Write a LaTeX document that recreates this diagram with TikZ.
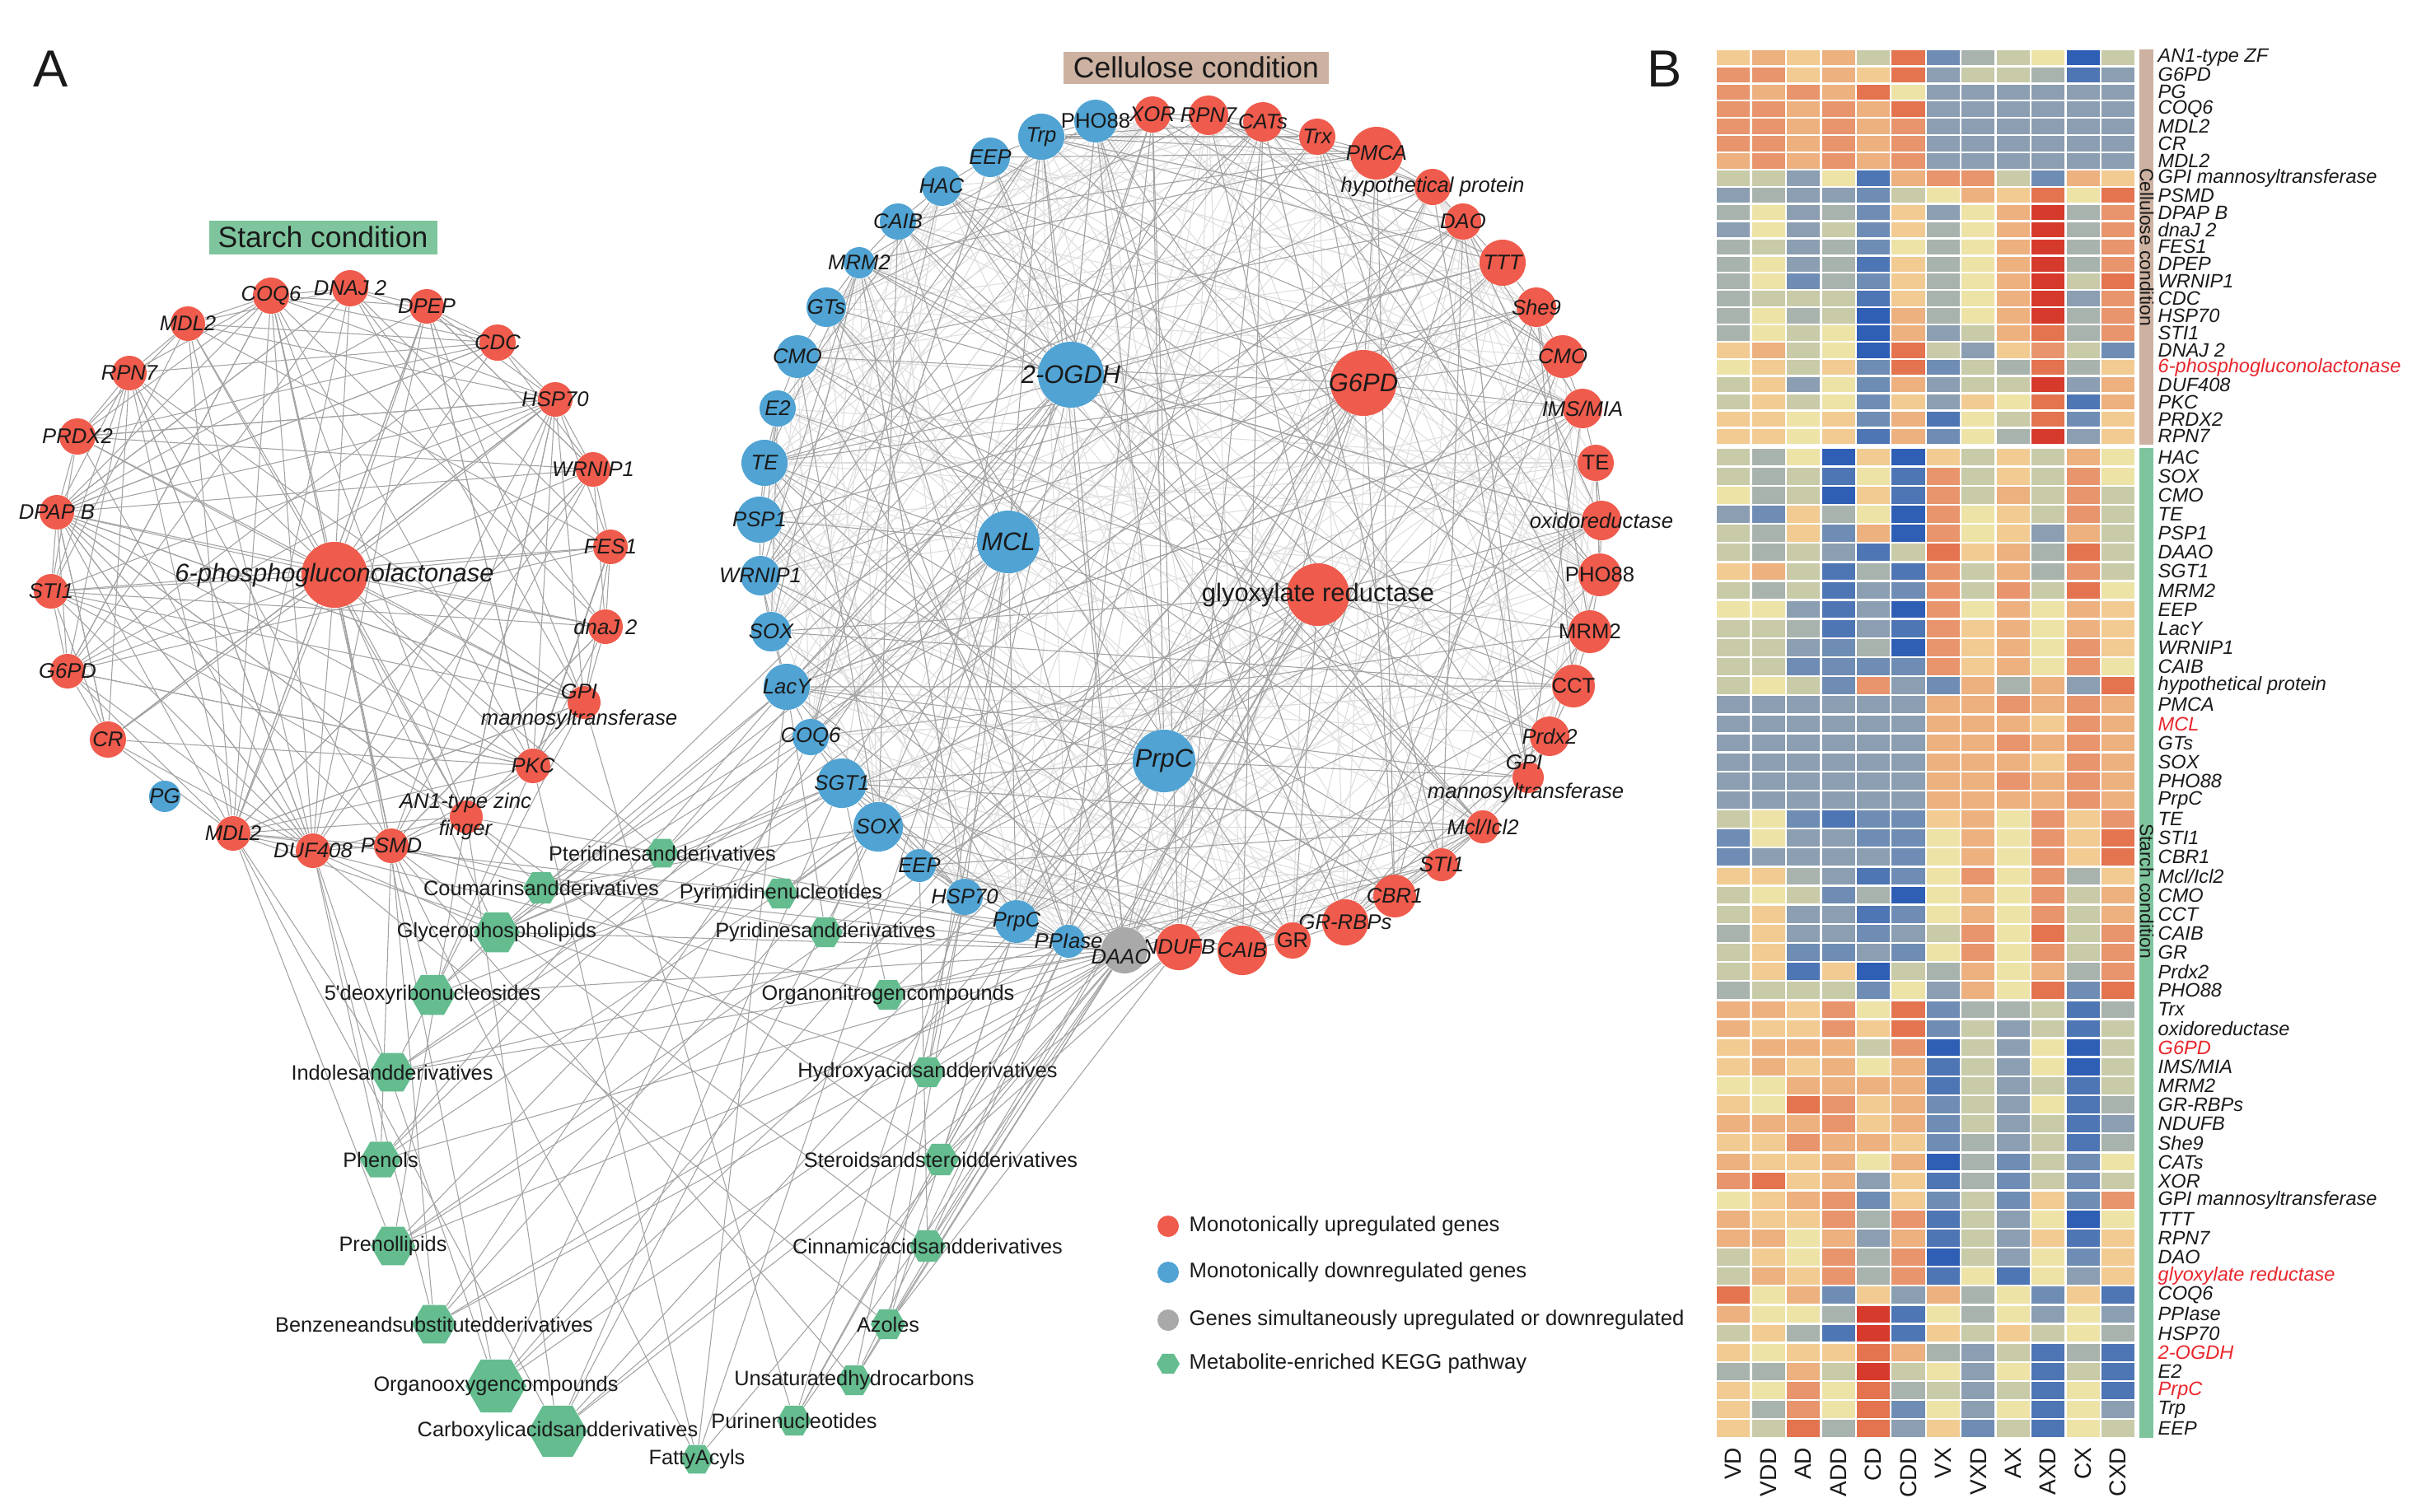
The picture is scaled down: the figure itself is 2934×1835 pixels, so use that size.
\documentclass[tikz,border=0pt]{standalone}
\usepackage{fontspec}
\setmainfont{Liberation Sans}
\usetikzlibrary{shapes.geometric}
\pgfdeclarelayer{bgf}
\pgfdeclarelayer{bg}
\pgfsetlayers{bgf,bg,main}
\definecolor{upc}{HTML}{EF5B4C}
\definecolor{dnc}{HTML}{50A3D3}
\definecolor{gyc}{HTML}{A9A9A9}
\definecolor{hxc}{HTML}{64BC8F}
\definecolor{txt}{HTML}{1A1A1A}
\definecolor{edg}{HTML}{A2A2A2}
\definecolor{edf}{HTML}{DDDDDD}
\definecolor{redl}{HTML}{E8262C}
\definecolor{cellc}{HTML}{CDB2A1}
\definecolor{starc}{HTML}{7EC59D}
\definecolor{hma}{HTML}{2F5EB5}
\definecolor{hmb}{HTML}{4E75B4}
\definecolor{hmc}{HTML}{6F8DB4}
\definecolor{hmd}{HTML}{8B9EB2}
\definecolor{hme}{HTML}{A9B3AE}
\definecolor{hmf}{HTML}{C9CAA8}
\definecolor{hmg}{HTML}{EDE3A7}
\definecolor{hmh}{HTML}{F2CB92}
\definecolor{hmi}{HTML}{EDB07F}
\definecolor{hmj}{HTML}{E8946C}
\definecolor{hmk}{HTML}{E3744F}
\definecolor{hml}{HTML}{D63A2D}
\newcommand\fsz[1]{\fontsize{#1}{#1}\selectfont}
\tikzset{
 up/.style={circle,fill=upc,inner sep=0pt,minimum size=#1*0.02cm},
 dn/.style={circle,fill=dnc,inner sep=0pt,minimum size=#1*0.02cm},
 gy/.style={circle,fill=gyc,inner sep=0pt,minimum size=#1*0.02cm},
 hx/.style={regular polygon,regular polygon sides=6,fill=hxc,inner sep=0pt,minimum size=#1*0.02cm},
 li/.style={font=\fsz{7.3}\itshape,inner sep=0pt,text=txt},
 lu/.style={font=\fsz{7.3},inner sep=0pt,text=txt},
 bi/.style={font=\fsz{8.8}\itshape,inner sep=0pt,text=txt},
 bu/.style={font=\fsz{8.8},inner sep=0pt,text=txt},
 ml/.style={font=\fsz{7.2},inner sep=0pt,text=txt},
 hl/.style={font=\fsz{6.7}\itshape,inner sep=0pt,anchor=west,text=txt},
 de/.style={draw=edg,line width=0.3pt},
 fe/.style={draw=edf,line width=0.3pt}
}
\newcommand\gn[6]{\node[#1=#2] (#3) at (#4) {};\node[#5] (#3l) at (#4) {#6};}
\begin{document}
\begin{tikzpicture}[x=0.01cm,y={(0cm,-0.01cm)}]
\useasboundingbox (0,0) rectangle (2934,1835);
% panel letters and titles
\node[font=\fsz{18},text=txt,inner sep=0pt] (pA) at (62,84) {A};
\node[font=\fsz{18},text=txt,inner sep=0pt] (pB) at (2021,84) {B};
\node[fill=starc,font=\fsz{10.1},text=txt,inner sep=0pt,minimum width=277*0.01cm,minimum height=41*0.01cm] (tst) at (392,288) {Starch condition};
\node[fill=cellc,font=\fsz{10.1},text=txt,inner sep=0pt,minimum width=322*0.01cm,minimum height=39*0.01cm] (tce) at (1452,82) {Cellulose condition};
% ---------- starch network ----------
\gn{up}{40}{s0}{406,698}{bi}{6-phosphogluconolactonase}
\gn{up}{22}{s1}{329,359}{li}{COQ6}
\gn{up}{22}{s2}{425,350}{li}{DNAJ 2}
\gn{up}{21}{s3}{518,372}{li}{DPEP}
\gn{up}{22}{s4}{604,416}{li}{CDC}
\gn{up}{21}{s5}{674,485}{li}{HSP70}
\gn{up}{21}{s6}{720,570}{li}{WRNIP1}
\gn{up}{21}{s7}{741,664}{li}{FES1}
\gn{up}{21}{s8}{735,761}{li}{dnaJ 2}
\node[up=20] (s9) at (709,853) {};
\node[li] (s9a) at (703,840) {GPI};
\node[li] (s9b) at (703,874) {mannosyltransferase};
\gn{up}{21}{s10}{647,930}{li}{PKC}
\node[up=20] (s11) at (566,992) {};
\node[li] (s11a) at (565,975) {AN1-type zinc};
\node[li] (s11b) at (565,1008) {finger};
\gn{up}{21}{s12}{475,1027}{li}{PSMD}
\gn{up}{21}{s13}{380,1033}{li}{DUF408}
\gn{up}{21}{s14}{283,1012}{li}{MDL2}
\gn{dn}{19}{sPG}{200,967}{li}{PG}
\gn{up}{22}{s15}{131,898}{li}{CR}
\gn{up}{21}{s16}{82,815}{li}{G6PD}
\gn{up}{21}{s17}{62,718}{li}{STI1}
\gn{up}{21}{s18}{69,622}{li}{DPAP B}
\gn{up}{22}{s19}{94,530}{li}{PRDX2}
\gn{up}{21}{s20}{157,453}{li}{RPN7}
\gn{up}{21}{s21}{228,393}{li}{MDL2}
% ---------- cellulose network ----------
\gn{dn}{26}{c1}{1330,147}{lu}{PHO88}
\gn{up}{22}{c2}{1399,139}{li}{XOR}
\gn{up}{24}{c3}{1467,140}{li}{RPN7}
\gn{up}{24}{c4}{1533,148}{li}{CATs}
\gn{up}{22}{c5}{1599,166}{li}{Trx}
\gn{up}{32}{c6}{1671,186}{li}{PMCA}
\gn{up}{22}{c7}{1739,227}{li}{hypothetical protein}
\gn{up}{22}{c8}{1776,269}{li}{DAO}
\gn{up}{28}{c9}{1824,319}{li}{TTT}
\gn{up}{24}{c10}{1865,373}{li}{She9}
\gn{up}{26}{c11}{1897,433}{li}{CMO}
\gn{up}{24}{c12}{1921,496}{li}{IMS/MIA}
\gn{up}{22}{c13}{1937,562}{lu}{TE}
\gn{up}{24}{c14}{1944,632}{li}{oxidoreductase}
\gn{up}{26}{c15}{1942,698}{lu}{PHO88}
\gn{up}{26}{c16}{1930,767}{lu}{MRM2}
\gn{up}{26}{c17}{1910,833}{lu}{CCT}
\gn{up}{24}{c18}{1881,894}{li}{Prdx2}
\node[up=19] (c19) at (1855,944) {};
\node[li] (c19a) at (1850,926) {GPI};
\node[li] (c19b) at (1852,963) {mannosyltransferase};
\gn{up}{20}{c20}{1800,1004}{li}{Mcl/Icl2}
\gn{up}{20}{c21}{1750,1050}{li}{STI1}
\gn{up}{26}{c22}{1693,1088}{li}{CBR1}
\gn{up}{28}{c23}{1633,1120}{li}{GR-RBPs}
\gn{up}{22}{c24}{1569,1142}{lu}{GR}
\gn{up}{30}{c25}{1508,1154}{li}{CAIB}
\gn{up}{28}{c26}{1431,1150}{li}{NDUFB}
\node[gy=28] (c27) at (1365,1154) {};
\node[li] (c27l) at (1361,1162) {DAAO};
\gn{dn}{20}{c28}{1297,1143}{li}{PPIase}
\gn{dn}{26}{c29}{1234,1119}{li}{PrpC}
\gn{dn}{22}{c30}{1171,1089}{li}{HSP70}
\gn{dn}{20}{c31}{1116,1051}{li}{EEP}
\gn{dn}{30}{c32}{1066,1004}{li}{SOX}
\gn{dn}{30}{c33}{1022,951}{li}{SGT1}
\gn{dn}{22}{c34}{984,895}{li}{COQ6}
\gn{dn}{28}{c35}{955,834}{li}{LacY}
\gn{dn}{24}{c36}{936,767}{li}{SOX}
\gn{dn}{24}{c37}{923,699}{li}{WRNIP1}
\gn{dn}{28}{c38}{922,631}{li}{PSP1}
\gn{dn}{28}{c39}{928,562}{li}{TE}
\gn{dn}{22}{c40}{944,496}{li}{E2}
\gn{dn}{26}{c41}{968,433}{li}{CMO}
\gn{dn}{24}{c42}{1003,373}{li}{GTs}
\gn{dn}{19}{c43}{1043,319}{li}{MRM2}
\gn{dn}{22}{c44}{1090,269}{li}{CAIB}
\gn{dn}{24}{c45}{1143,226}{li}{HAC}
\gn{dn}{24}{c46}{1202,191}{li}{EEP}
\gn{dn}{28}{c47}{1264,166}{li}{Trp}
\gn{dn}{40}{OG}{1300,455}{bi}{2-OGDH}
\gn{up}{40}{G6}{1655,465}{bi}{G6PD}
\gn{dn}{38}{MC}{1224,658}{bi}{MCL}
\gn{up}{38}{GR}{1600,722}{bu}{glyoxylate reductase}
\gn{dn}{38}{PC}{1413,924}{bi}{PrpC}
% ---------- metabolite pathways ----------
\gn{hx}{20}{m1}{804,1036}{ml}{Pteridinesandderivatives}
\gn{hx}{22}{m2}{657,1078}{ml}{Coumarinsandderivatives}
\gn{hx}{28}{m3}{603,1132}{ml}{Glycerophospholipids}
\gn{hx}{28}{m4}{525,1208}{ml}{5\textquotesingle deoxyribonucleosides}
\gn{hx}{27}{m5}{476,1302}{ml}{Indolesandderivatives}
\gn{hx}{25}{m6}{462,1408}{ml}{Phenols}
\gn{hx}{27}{m7}{477,1513}{ml}{Prenollipids}
\gn{hx}{27}{m8}{527,1608}{ml}{Benzeneandsubstitutedderivatives}
\gn{hx}{37}{m9}{602,1683}{ml}{Organooxygencompounds}
\gn{hx}{36}{m10}{677,1738}{ml}{Carboxylicacidsandderivatives}
\gn{hx}{20}{m11}{846,1772}{ml}{FattyAcyls}
\gn{hx}{21}{m12}{964,1725}{ml}{Purinenucleotides}
\gn{hx}{21}{m13}{1037,1676}{ml}{Unsaturatedhydrocarbons}
\gn{hx}{21}{m14}{1078,1608}{ml}{Azoles}
\gn{hx}{22}{m15}{1126,1513}{ml}{Cinnamicacidsandderivatives}
\gn{hx}{22}{m16}{1142,1408}{ml}{Steroidsandsteroidderivatives}
\gn{hx}{21}{m17}{1126,1302}{ml}{Hydroxyacidsandderivatives}
\gn{hx}{21}{m18}{1078,1208}{ml}{Organonitrogencompounds}
\gn{hx}{21}{m19}{1002,1132}{ml}{Pyridinesandderivatives}
\gn{hx}{21}{m20}{948,1085}{ml}{Pyrimidinenucleotides}
% ---------- legend ----------
\node[up=13] (lg1) at (1418,1489) {};
\node[lu,anchor=west] (lg1t) at (1443,1489) {Monotonically upregulated genes};
\node[dn=13] (lg2) at (1418,1545) {};
\node[lu,anchor=west] (lg2t) at (1443,1545) {Monotonically downregulated genes};
\node[gy=13] (lg3) at (1418,1603) {};
\node[lu,anchor=west] (lg3t) at (1443,1603) {Genes simultaneously upregulated or downregulated};
\node[hx=14] (lg4) at (1418,1656) {};
\node[lu,anchor=west] (lg4t) at (1443,1656) {Metabolite-enriched KEGG pathway};
% ---------- edges ----------
\begin{pgfonlayer}{bgf}
\foreach \i in {1,...,47}{\foreach \kk in {1,2,3,4,5}{\pgfmathtruncatemacro\jj{mod(\i-1+3+mod(\i*\kk*17+\kk*5,41),47)+1}\draw[fe] (c\i) -- (c\jj);}}
\end{pgfonlayer}
\begin{pgfonlayer}{bg}
\foreach \i in {1,...,47}{\pgfmathtruncatemacro\jj{mod(\i,47)+1}\draw[de] (c\i) -- (c\jj);
 \foreach \kk in {1,2,3}{\pgfmathtruncatemacro\jj{mod(\i-1+2+mod(\i*\kk*13+\kk*7,44),47)+1}\draw[de] (c\i) -- (c\jj);}}
\foreach \i in {1,...,21}{\draw[de] (s0) -- (s\i);
 \foreach \kk in {1,2}{\pgfmathtruncatemacro\jj{mod(\i+\kk-1,21)+1}\draw[de] (s\i) -- (s\jj);}
 \foreach \kk in {1,2,3,4,5}{\pgfmathtruncatemacro\jj{mod(\i-1+3+mod(\i*\kk*11+\kk*3,16),21)+1}\draw[de] (s\i) -- (s\jj);}}
\foreach \b in {c1,c2,c3,c4,c43,c44,c45,c46,c47,c33,c35,c27,c20,c14,c9} \draw[de] (OG) -- (\b);
\foreach \b in {c5,c6,c8,c9,c10,c11,c12,c27,c26,c22,c37,c39,c41} \draw[de] (G6) -- (\b);
\foreach \b in {c38,c42,c44,c47,c30,c29,c31,c27,c2,c5} \draw[de] (MC) -- (\b);
\foreach \b in {c16,c14,c17,c21,c24,c28,c27,c3,c40,c36} \draw[de] (GR) -- (\b);
\foreach \b in {c1,c2,c33,c35,c37,c27,c22,c19,c12,c7} \draw[de] (PC) -- (\b);
\foreach \b in {s0,s11,c33,c27,OG,MC} \draw[de] (m1) -- (\b);
\foreach \b in {s12,s11,c35,c32,G6,c27} \draw[de] (m2) -- (\b);
\foreach \b in {s13,s0,c33,c34,GR,c27,MC} \draw[de] (m3) -- (\b);
\foreach \b in {s12,s10,c32,c35,OG,c27} \draw[de] (m4) -- (\b);
\foreach \b in {s14,s9,c33,G6,c27,c29} \draw[de] (m5) -- (\b);
\foreach \b in {s13,s12,c35,c32,MC,c27} \draw[de] (m6) -- (\b);
\foreach \b in {s14,s11,c33,GR,c27,PC} \draw[de] (m7) -- (\b);
\foreach \b in {s12,s13,c32,OG,c27,c28} \draw[de] (m8) -- (\b);
\foreach \b in {s0,s13,c34,G6,c27,PC} \draw[de] (m9) -- (\b);
\foreach \b in {s11,s14,c33,c32,GR,c27,c26} \draw[de] (m10) -- (\b);
\foreach \b in {s10,s12,c35,c27,MC} \draw[de] (m11) -- (\b);
\foreach \b in {s9,c27,c30,PC,G6} \draw[de] (m12) -- (\b);
\foreach \b in {s12,c27,c28,OG,GR} \draw[de] (m13) -- (\b);
\foreach \b in {c27,c29,c26,c30,s13} \draw[de] (m14) -- (\b);
\foreach \b in {c27,c28,c31,GR,s12} \draw[de] (m15) -- (\b);
\foreach \b in {c27,c29,c26,PC,s11} \draw[de] (m16) -- (\b);
\foreach \b in {c27,c30,MC,G6,s14} \draw[de] (m17) -- (\b);
\foreach \b in {c27,c28,c33,GR,s13} \draw[de] (m18) -- (\b);
\foreach \b in {c27,c31,c35,OG,s12} \draw[de] (m19) -- (\b);
\foreach \b in {c27,c32,c29,G6,s14} \draw[de] (m20) -- (\b);
\end{pgfonlayer}
% ---------- heatmap ----------
\foreach \r [count=\i from 0] in {
{h,i,h,i,f,k,c,e,f,g,a,f},{j,j,h,i,h,k,d,f,f,e,b,d},{j,i,j,i,k,g,d,d,d,d,d,d},{j,j,i,j,i,k,d,d,d,d,d,d},
{j,j,i,j,i,j,d,d,d,d,d,d},{j,j,i,j,i,j,d,d,d,d,d,d},{i,j,i,j,i,j,d,d,d,d,d,d},{f,f,d,g,b,i,j,j,f,c,i,h},
{d,e,d,d,c,f,g,i,h,k,g,k},{e,g,d,e,c,h,d,g,i,l,e,j},{d,g,d,f,c,h,e,g,i,l,e,j},{e,f,d,e,c,g,e,g,i,l,e,j},
{e,g,d,e,b,h,e,g,i,l,e,j},{e,g,c,e,c,h,e,g,i,l,f,k},{e,f,f,f,b,h,e,g,i,l,d,j},{e,g,e,f,a,i,e,g,i,l,e,j},
{e,g,f,g,a,i,d,f,i,k,e,j},{h,i,f,g,a,k,f,d,h,j,f,c},{g,h,f,h,c,k,c,f,e,k,e,h},{f,h,d,g,c,i,d,f,f,l,d,i},
{f,h,f,g,c,h,d,h,g,k,b,i},{h,h,g,h,c,i,b,g,f,k,c,h},{h,h,g,h,b,i,c,g,e,l,d,h}}{
 \foreach \c [count=\j from 0] in \r {\fill[fill=hm\c] ({2084.2+\j*42.45},{60.7+\i*20.9}) rectangle ++(40.05,18.5);}}
\foreach \r [count=\i from 0] in {
{f,e,g,a,h,a,h,f,h,f,i,g},{f,e,f,b,g,b,j,f,h,f,j,g},{g,e,f,a,h,b,j,f,i,f,j,f},{d,c,h,e,g,a,j,g,h,f,j,f},
{f,e,h,c,i,a,j,g,h,d,i,f},{f,e,f,d,b,f,k,h,i,e,k,f},{h,i,f,b,e,b,j,f,i,e,j,f},{f,e,f,b,d,c,j,f,j,f,k,g},
{g,g,d,b,d,a,j,g,i,g,i,h},{f,f,e,b,d,b,j,h,i,g,i,h},{f,f,d,c,e,a,j,h,i,g,j,h},{f,f,c,c,c,c,j,h,i,g,j,g},
{f,g,f,c,j,d,c,i,e,i,d,k},{d,d,d,d,d,d,i,i,j,i,j,i},{d,d,d,d,d,d,i,i,i,h,j,i},{d,d,d,d,d,d,i,i,j,i,j,i},
{d,d,d,d,d,d,i,i,i,h,j,i},{d,d,d,d,d,d,i,i,j,i,j,i},{d,d,d,d,d,d,i,i,i,i,j,i},{f,g,c,b,c,c,h,i,g,j,h,j},
{c,g,d,d,c,c,g,i,g,j,h,k},{c,d,d,d,d,c,g,i,g,j,h,k},{h,h,e,d,b,c,g,j,g,j,e,h},{f,g,f,c,e,a,g,i,g,j,f,i},
{f,h,d,d,b,c,g,i,g,j,f,i},{e,h,d,d,c,d,f,j,g,k,f,j},{f,h,c,c,d,c,g,j,g,j,f,j},{f,h,b,h,a,f,e,i,g,i,e,j},
{e,f,f,f,c,g,d,i,g,k,c,k},{i,i,h,j,g,k,c,e,e,f,b,e},{i,h,h,j,h,k,c,f,d,f,b,f},{h,i,i,i,f,j,a,f,d,g,a,f},
{h,i,h,i,g,i,b,f,d,g,a,f},{g,g,i,i,i,i,b,f,d,f,b,f},{h,g,k,j,h,i,c,f,d,g,b,e},{i,i,i,j,h,i,c,f,d,f,b,d},
{h,h,j,i,i,h,c,e,d,f,b,e},{i,h,h,i,g,i,a,e,c,f,c,g},{j,k,h,i,d,h,b,e,c,f,c,f},{g,h,i,j,c,h,c,f,c,h,c,j},
{i,h,h,j,e,j,b,f,d,g,a,g},{i,i,g,i,d,i,b,f,d,h,b,h},{f,h,g,j,e,j,a,f,d,g,c,h},{f,i,h,j,e,j,b,g,b,g,d,h},
{k,g,i,c,h,d,i,e,g,c,h,b},{i,g,g,e,l,b,g,e,g,d,g,d},{f,h,e,b,l,b,h,f,h,f,g,e},{h,g,h,h,k,i,e,d,f,b,e,b},
{e,e,i,f,l,f,g,d,g,b,f,b},{h,g,j,g,k,e,f,d,f,b,g,b},{h,e,j,g,k,c,g,d,g,b,g,d},{h,f,k,e,k,d,h,c,f,b,g,f}}{
 \foreach \c [count=\j from 0] in \r {\fill[fill=hm\c] ({2084.2+\j*42.45},{544.7+\i*23.13}) rectangle ++(40.05,20.7);}}
% annotation bars
\fill[cellc] (2597,59.5) rectangle (2614,540);
\fill[starc] (2597,543.5) rectangle (2614,1746);
\node[rotate=-90,font=\fsz{6.5},text=txt,inner sep=0pt] (barc) at (2606,300) {Cellulose condition};
\node[rotate=-90,font=\fsz{6.5},text=txt,inner sep=0pt] (bars) at (2606,1082) {Starch condition};
% row labels
\foreach \t [count=\i from 0] in {AN1-type ZF,G6PD,PG,COQ6,MDL2,CR,MDL2,GPI mannosyltransferase,PSMD,DPAP B,dnaJ 2,FES1,DPEP,WRNIP1,CDC,HSP70,STI1,DNAJ 2,{\textcolor{redl}{6-phosphogluconolactonase}},DUF408,PKC,PRDX2,RPN7}
 \node[hl] (hc\i) at (2619,{59.5+(\i+0.5)*20.9}) {\t};
\foreach \t [count=\i from 0] in {HAC,SOX,CMO,TE,PSP1,DAAO,SGT1,MRM2,EEP,LacY,WRNIP1,CAIB,hypothetical protein,PMCA,{\textcolor{redl}{MCL}},GTs,SOX,PHO88,PrpC,TE,STI1,CBR1,Mcl/Icl2,CMO,CCT,CAIB,GR,Prdx2,PHO88,Trx,oxidoreductase,{\textcolor{redl}{G6PD}},IMS/MIA,MRM2,GR-RBPs,NDUFB,She9,CATs,XOR,GPI mannosyltransferase,TTT,RPN7,DAO,{\textcolor{redl}{glyoxylate reductase}},COQ6,PPIase,HSP70,{\textcolor{redl}{2-OGDH}},E2,{\textcolor{redl}{PrpC}},Trp,EEP}
 \node[hl] (hs\i) at (2619,{543.5+(\i+0.5)*23.13}) {\t};
% column labels
\foreach \t [count=\j from 0] in {VD,VDD,AD,ADD,CD,CDD,VX,VXD,AX,AXD,CX,CXD}
 \node[rotate=90,anchor=east,font=\fsz{8},text=txt,inner sep=0pt] (col\j) at ({2083+(\j+0.5)*42.45},1757) {\t};
\end{tikzpicture}
\end{document}
